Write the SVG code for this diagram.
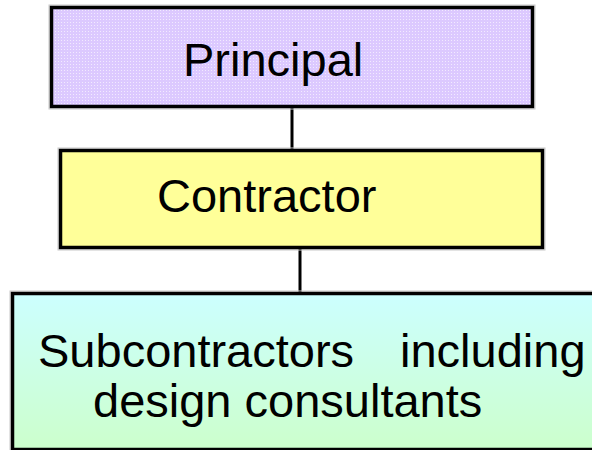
<svg xmlns="http://www.w3.org/2000/svg" width="592" height="450" viewBox="0 0 592 450">
  <defs>
    <pattern id="dots" width="3" height="3" patternUnits="userSpaceOnUse">
      <rect width="3" height="3" fill="#DCC9FF"/>
      <rect x="1" y="1" width="1" height="1" fill="#F2EAFF"/>
    </pattern>
    <linearGradient id="sub" x1="0" y1="0" x2="0" y2="1">
      <stop offset="0" stop-color="#CCFFFF"/>
      <stop offset="1" stop-color="#CCFFCC"/>
    </linearGradient>
  </defs>
  <style>
    .box { stroke: #000; stroke-width: 3.5; }
    .halo { fill: none; stroke: #C8C8C8; stroke-width: 1; }
    .lbl { font-family: "Liberation Sans", Arial, sans-serif; font-size: 47px; fill: #000; }
    .conn line { stroke: #000; stroke-width: 3; }
  </style>
  <rect width="592" height="450" fill="#FFFFFF"/>
  <g id="connectors" class="conn">
    <line x1="292" y1="107" x2="292" y2="150"/>
    <line x1="300" y1="248" x2="300" y2="293"/>
  </g>
  <g id="principal">
    <rect class="halo" x="49" y="5" width="486" height="104"/>
    <rect class="box" x="51.5" y="7.5" width="481" height="99" fill="url(#dots)"/>
    <text class="lbl" x="183" y="76">Principal</text>
  </g>
  <g id="contractor">
    <rect class="halo" x="58" y="148" width="487" height="102"/>
    <rect class="box" x="60.5" y="150.5" width="482" height="97" fill="#FFFF99"/>
    <text class="lbl" x="157" y="212">Contractor</text>
  </g>
  <g id="subcontractors">
    <rect class="halo" x="10" y="291" width="600" height="170"/>
    <rect class="box" x="12.5" y="293.5" width="600" height="156" fill="url(#sub)"/>
    <text class="lbl" x="38" y="367">Subcontractors</text>
    <text class="lbl" x="400" y="367">including</text>
    <text class="lbl" x="93" y="417">design consultants</text>
  </g>
</svg>
